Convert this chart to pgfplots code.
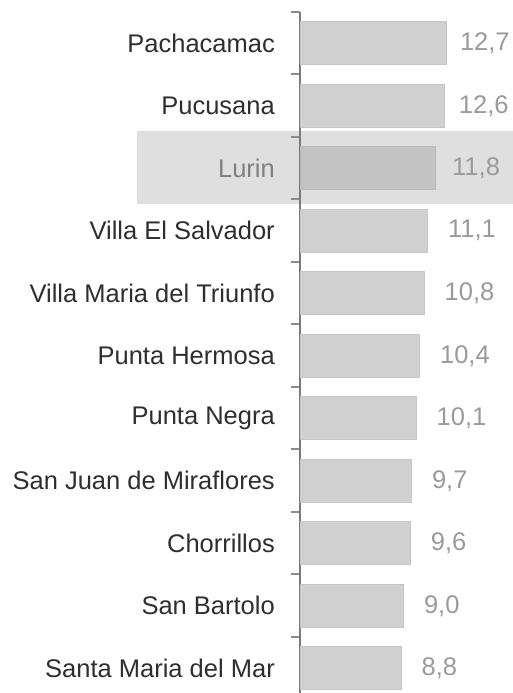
\documentclass[border=0pt]{standalone}
\usepackage{pgfplots}
\pgfplotsset{compat=1.18}
\usepackage{fontspec}
\setmainfont{Liberation Sans}
\definecolor{barfill}{HTML}{D0D0D0}
\definecolor{baredge}{HTML}{C6C6C6}
\definecolor{hlfill}{HTML}{C3C3C3}
\definecolor{hledge}{HTML}{B9B9B9}
\definecolor{hlbg}{HTML}{DFDFDF}
\definecolor{axisgray}{HTML}{7A7A7A}
\definecolor{tickgray}{HTML}{8C8C8C}
\definecolor{valgray}{HTML}{9A9A9A}
\definecolor{labdark}{HTML}{2E2E2E}
\begin{document}
\begin{tikzpicture}
\begin{axis}[
  set layers,
  at={(0,0)}, anchor=south west,
  scale only axis,
  width=230pt, height=687.5pt,
  xmin=0, xmax=20,
  ymin=-0.5, ymax=10.5,
  y dir=reverse,
  axis x line=none,
  axis y line*=left,
  y axis line style={draw=axisgray, line width=2.4pt},
  ytick={0,...,10},
  yticklabels={Pachacamac,Pucusana,{\color{gray}Lurin},Villa El Salvador,Villa Maria del Triunfo,Punta Hermosa,Punta Negra,San Juan de Miraflores,Chorrillos,San Bartolo,Santa Maria del Mar},
  yticklabel style={font=\fontsize{25.5}{30}\selectfont, text=labdark, inner sep=0pt, xshift=-25pt},
  major tick length=0pt,
  minor ytick={-0.5,0.5,...,10.5},
  minor tick length=9pt,
  tick align=outside,
  minor tick style={draw=tickgray, line width=2pt},
  xbar, bar width=43pt, bar shift=0pt,
  clip=false,
  nodes near coords={\pgfmathprintnumber[fixed,fixed zerofill,precision=1,use comma,assume math mode=true]{\pgfplotspointmeta}},
  nodes near coords style={font=\fontsize{25.5}{30}\selectfont, text=valgray, anchor=west, inner sep=0pt},
  point meta=x,
]
\begin{pgfonlayer}{axis background}
\fill[hlbg] (axis cs:-14.17,1.41) rectangle (axis cs:20,2.57);
\end{pgfonlayer}
\addplot[fill=barfill, draw=baredge, line width=1pt, nodes near coords style={xshift=13.5pt}] coordinates {
(12.7,0) (12.6,1)
};
\addplot[fill=hlfill, draw=hledge, line width=1pt, nodes near coords style={xshift=16pt}] coordinates {
(11.8,2)
};
\addplot[fill=barfill, draw=baredge, line width=1pt, nodes near coords style={xshift=20pt}] coordinates {
(11.1,3) (10.8,4) (10.4,5) (10.1,6) (9.7,7) (9.6,8) (9.0,9) (8.8,10)
};
\end{axis}
\pgfresetboundingbox
\useasboundingbox (-300pt,6.5pt) rectangle (213pt,699.5pt);
\end{tikzpicture}
\end{document}
